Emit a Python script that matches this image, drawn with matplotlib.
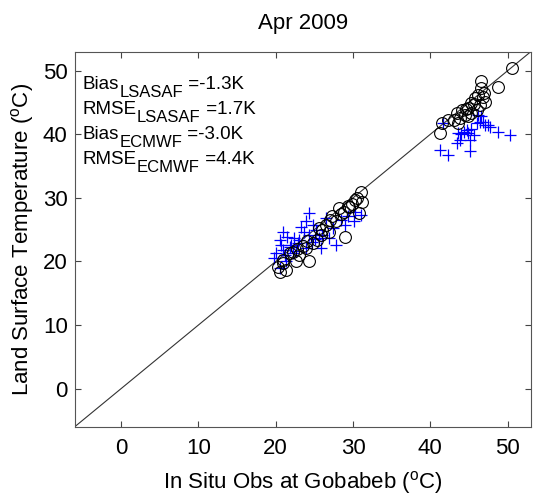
import matplotlib
matplotlib.use('Agg')
import matplotlib.pyplot as plt

plt.rcParams['font.family'] = ['Liberation Sans', 'DejaVu Sans']
plt.rcParams['mathtext.fontset'] = 'custom'
plt.rcParams['mathtext.rm'] = 'Liberation Sans'
plt.rcParams['mathtext.it'] = 'Liberation Sans'

TITLE = 'Apr 2009'
XLIM = (-6, 53)
YLIM = (-6, 53)
TICKS = [0, 10, 20, 30, 40, 50]

# in situ obs vs LSASAF LST (circles)
obs_lsasaf = [50.5, 46.5, 46.6, 48.8, 46.2, 46.8, 45.8, 47.1, 45.3, 46.4,
              44.9, 46.0, 44.1, 45.3, 44.5, 43.4, 44.9, 43.8, 43.0, 42.3,
              41.5, 43.6, 41.3, 45.6, 46.9, 44.6,
              31.0, 30.3, 31.2, 29.5, 30.8, 28.8, 28.2, 27.8, 29.0, 26.5,
              26.9, 25.8, 25.4, 24.8, 24.3, 22.6, 21.8, 20.9, 20.3, 20.5,
              21.3, 23.0, 23.9, 25.6, 27.3, 29.9, 28.5, 26.0, 24.0, 22.2,
              21.0, 22.8, 23.5, 27.0, 30.5, 29.3]
lst_lsasaf = [50.4, 48.4, 47.2, 47.4, 46.2, 45.9, 45.7, 45.1, 44.9, 44.6,
              44.1, 43.8, 43.8, 43.3, 43.0, 43.3, 42.8, 42.5, 42.3, 42.3,
              41.7, 41.7, 40.2, 44.8, 46.5, 44.0,
              31.0, 29.7, 29.4, 28.6, 27.6, 27.8, 28.4, 26.3, 23.9, 25.7,
              24.7, 24.2, 23.4, 22.9, 20.0, 20.0, 21.3, 20.2, 19.2, 18.4,
              18.7, 21.0, 22.1, 25.2, 27.1, 29.0, 27.5, 25.0, 23.2, 21.5,
              19.8, 22.0, 22.5, 26.5, 30.0, 28.8]

# in situ obs vs ECMWF LST (pluses)
obs_ecmwf = [46.6, 46.4, 47.1, 47.7, 48.8, 50.3, 44.7, 44.9, 44.3, 45.6,
             43.6, 43.8, 43.4, 45.1, 41.3, 42.3, 45.1, 46.2, 46.8, 47.5,
             41.7, 44.0, 45.3, 46.0,
             24.3, 23.9, 23.3, 20.9, 20.5, 21.5, 22.4, 20.0, 20.9, 22.0,
             23.0, 24.3, 25.2, 26.5, 27.8, 26.9, 29.3, 30.1, 31.0, 30.3,
             29.0, 25.6, 23.9, 22.6, 21.3, 20.5, 24.8, 25.8, 19.8, 21.8,
             22.9, 24.7, 26.0, 27.4, 28.5, 23.6, 21.2, 20.7, 22.2, 25.1]
lst_ecmwf = [42.8, 42.0, 41.5, 41.2, 40.4, 39.9, 40.7, 40.2, 40.4, 39.9,
             40.2, 39.1, 38.6, 39.1, 37.5, 36.8, 37.3, 43.0, 42.0, 41.5,
             41.7, 40.0, 40.9, 41.8,
             27.6, 26.3, 25.5, 24.7, 23.4, 23.9, 23.7, 21.3, 21.8, 22.6,
             23.4, 24.2, 24.9, 26.8, 22.6, 23.7, 27.1, 26.3, 27.3, 27.8,
             25.7, 23.7, 22.1, 21.6, 20.0, 18.9, 25.7, 22.1, 20.5, 22.2,
             22.9, 23.0, 24.2, 25.3, 26.5, 24.6, 21.0, 22.6, 21.4, 23.6]

STATS = [('Bias', 'LSASAF', '-1.3K'), ('RMSE', 'LSASAF', '1.7K'),
         ('Bias', 'ECMWF', '-3.0K'), ('RMSE', 'ECMWF', '4.4K')]

W, H = 533, 501
fig = plt.figure(figsize=(W / 100, H / 100), dpi=100)
ax = fig.add_axes([0.140, 0.148, 0.856, 0.749])

ax.plot(XLIM, YLIM, color='#333333', lw=0.8, zorder=1)
ax.plot(obs_ecmwf, lst_ecmwf, '+', color='blue', ms=9, mew=0.9, zorder=2)
ax.plot(obs_lsasaf, lst_lsasaf, 'o', mfc='none', mec='black', ms=8.5, mew=0.8, zorder=3)

ax.set_xlim(XLIM)
ax.set_ylim(YLIM)
ax.set_xticks(TICKS)
ax.set_yticks(TICKS)
ax.tick_params(direction='in', top=True, right=True, length=4, width=0.8,
               labelsize=16, color='#444444')
ax.tick_params(axis='x', pad=8)
ax.tick_params(axis='y', pad=5)
for sp in ax.spines.values():
    sp.set_color('#555555')
    sp.set_linewidth(0.8)

ax.set_title(TITLE, fontsize=16, pad=16)
ax.set_xlabel(r'In Situ Obs at Gobabeb ($^{\mathrm{o}}$C)', fontsize=16, labelpad=7)
ax.set_ylabel(r'Land Surface Temperature ($^{\mathrm{o}}$C)', fontsize=16, labelpad=5)

# stats text: word, subscript, value
renderer = fig.canvas.get_renderer()
for i, (name, sub, val) in enumerate(STATS):
    yb = H - (89 + 25 * i)
    t1 = fig.text(83 / W, yb / H, name, fontsize=13.5, va='baseline')
    x1 = t1.get_window_extent(renderer).x1
    t2 = fig.text(x1 / W, (yb - 8) / H, sub, fontsize=12, va='baseline')
    x2 = t2.get_window_extent(renderer).x1
    fig.text(x2 / W, yb / H, ' =' + val, fontsize=13.5, va='baseline')

fig.savefig('out.png', dpi=100)
